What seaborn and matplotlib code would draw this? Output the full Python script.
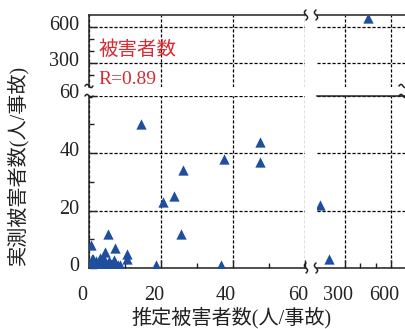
import numpy as np
import pandas as pd
import matplotlib
matplotlib.use("Agg")
import matplotlib.pyplot as plt
import matplotlib.transforms as mtransforms
from matplotlib.lines import Line2D
import seaborn as sns

sns.set_style("white")
plt.rcParams['font.family'] = ['Liberation Serif', 'Noto Sans CJK JP']

# estimated vs observed casualties per accident
est = [14.5, 47.5, 47.5, 37.5, 26.2, 23.7, 20.6, 25.5, 18.6, 36.7,
       5.2, 0.5, 7.2, 4.4, 10.5, 10.5, 6.9, 4.0, 3.0,
       0.5, 1.0, 1.5, 2.0, 2.5, 3.0, 3.5, 4.0, 5.0, 6.0, 7.0, 8.0, 8.5,
       1.0, 2.0, 0.3, 4.5, 5.5, 6.5, 2.8, 1.2, 3.8, 7.5, 0.8,
       137, 195, 448]
act = [50, 44, 37, 38, 34, 25, 23, 12, 1, 1,
       12, 8, 7, 5.7, 5, 3, 2.8, 4, 3.5,
       1.5, 2, 1, 0.8, 1.5, 1, 2, 1, 1, 1.5, 1, 1, 1,
       3, 2.5, 1.5, 1, 2.5, 1, 0.8, 0.8, 0.8, 1.2, 3,
       22, 3, 670]
df = pd.DataFrame({'est': est, 'act': act})

left_ticks = [0, 20, 40, 60]
right_ticks = [300, 600]
left_lim = (0, 60)
right_lim = (115, 700)
low_lim = (0, 60)
up_lim = (100, 700)

W, H = 406, 329
fig = plt.figure(figsize=(W / 100, H / 100), dpi=100)

def px(x0, y0, x1, y1):
    return [x0 / W, 1 - y1 / H, (x1 - x0) / W, (y1 - y0) / H]

ax_ll = fig.add_axes(px(89, 95.5, 305, 268))
ax_lr = fig.add_axes(px(316.7, 95.5, 406.4, 268))
ax_ul = fig.add_axes(px(89, 14.7, 305, 86.7))
ax_ur = fig.add_axes(px(316.7, 14.7, 406.4, 86.7))

blue = '#1f4e9e'
grid_kw = dict(color='black', linewidth=0.9, linestyle=(0, (2.5, 1.5)))
lab_size = 14.5
dark = '#222222'

for ax in [ax_ll, ax_lr, ax_ul, ax_ur]:
    sns.scatterplot(data=df, x='est', y='act', ax=ax, marker='^', s=55,
                    color=blue, edgecolor=blue, linewidth=0, zorder=3)
    ax.set_xlabel('')
    ax.set_ylabel('')
    for s in ax.spines.values():
        s.set_linewidth(1.1)
        s.set_color(dark)
    ax.tick_params(which='both', direction='in', bottom=True, left=True,
                   top=False, right=False, width=1, color=dark)
    ax.tick_params(which='major', length=6, labelsize=lab_size,
                   labelcolor=dark)
    ax.tick_params(which='minor', length=3.5)

# axis ranges and ticks
for ax in [ax_ll, ax_ul]:
    ax.set_xlim(*left_lim)
    ax.set_xticks(left_ticks)
    ax.set_xticks([10, 30, 50], minor=True)
    ax.spines['right'].set_visible(False)
for ax in [ax_lr, ax_ur]:
    ax.set_xlim(*right_lim)
    ax.set_xticks(right_ticks)
    ax.set_xticks([400, 500], minor=True)
    ax.spines['left'].set_visible(False)
    ax.spines['right'].set_visible(False)
    ax.tick_params(which='both', left=False, labelleft=False)
for ax in [ax_ll, ax_lr]:
    ax.set_ylim(*low_lim)
    ax.set_yticks(left_ticks)
    ax.set_yticks([10, 30, 50], minor=True)
for ax in [ax_ul, ax_ur]:
    ax.set_ylim(*up_lim)
    ax.set_yticks(right_ticks)
    ax.set_yticks([200, 400, 500], minor=True)
    ax.spines['bottom'].set_visible(False)
    ax.tick_params(which='both', bottom=False, labelbottom=False)
ax_ll.spines['top'].set_visible(False)

for ax in [ax_ll, ax_lr, ax_ul, ax_ur]:
    ax.grid(True, which='major', **grid_kw)
    ax.set_axisbelow(True)
    ax.tick_params(axis='x', pad=13)
    ax.tick_params(axis='y', pad=7)

# shift tick labels a bit like the original
dx = mtransforms.ScaledTranslation(-7 / 100, 0, fig.dpi_scale_trans)
dy = mtransforms.ScaledTranslation(0, 4 / 100, fig.dpi_scale_trans)
for ax in [ax_ll, ax_lr]:
    for lab in ax.get_xticklabels():
        lab.set_transform(lab.get_transform() + dx)
for ax in [ax_ll, ax_ul]:
    for lab in ax.get_yticklabels():
        lab.set_transform(lab.get_transform() + dy)

# text
red = '#d82a30'
fig.text(98 / W, 1 - 50 / H, '被害者数', color=red, fontsize=14,
         va='center', ha='left')
fig.text(98 / W, 1 - 80 / H, 'R=0.89', color=red, fontsize=14,
         va='center', ha='left')
fig.text(232 / W, 1 - 318 / H, '推定被害者数(人/事故)', fontsize=14.5,
         ha='center', va='center', color=dark)
fig.text(18 / W, 1 - 165 / H, '実測被害者数(人/事故)', fontsize=14.5,
         ha='center', va='center', rotation=90, color=dark)

# break marks
def squiggle(cx, cy, vertical=True):
    t = np.linspace(-1, 1, 30)
    if vertical:
        xs = cx + 1.6 * np.sin(np.pi * t)
        ys = cy + 5 * t
    else:
        xs = cx + 4 * t
        ys = cy + 1.6 * np.sin(np.pi * t)
    fig.add_artist(Line2D(xs / W, 1 - ys / H, transform=fig.transFigure,
                          color=dark, linewidth=1.1))

for cx in [306, 316]:
    for cy in [268, 15]:
        squiggle(cx, cy, vertical=True)
for cy in [86, 96]:
    squiggle(89, cy, vertical=False)
    squiggle(403, cy, vertical=False)

fig.savefig('out.png', dpi=100)
